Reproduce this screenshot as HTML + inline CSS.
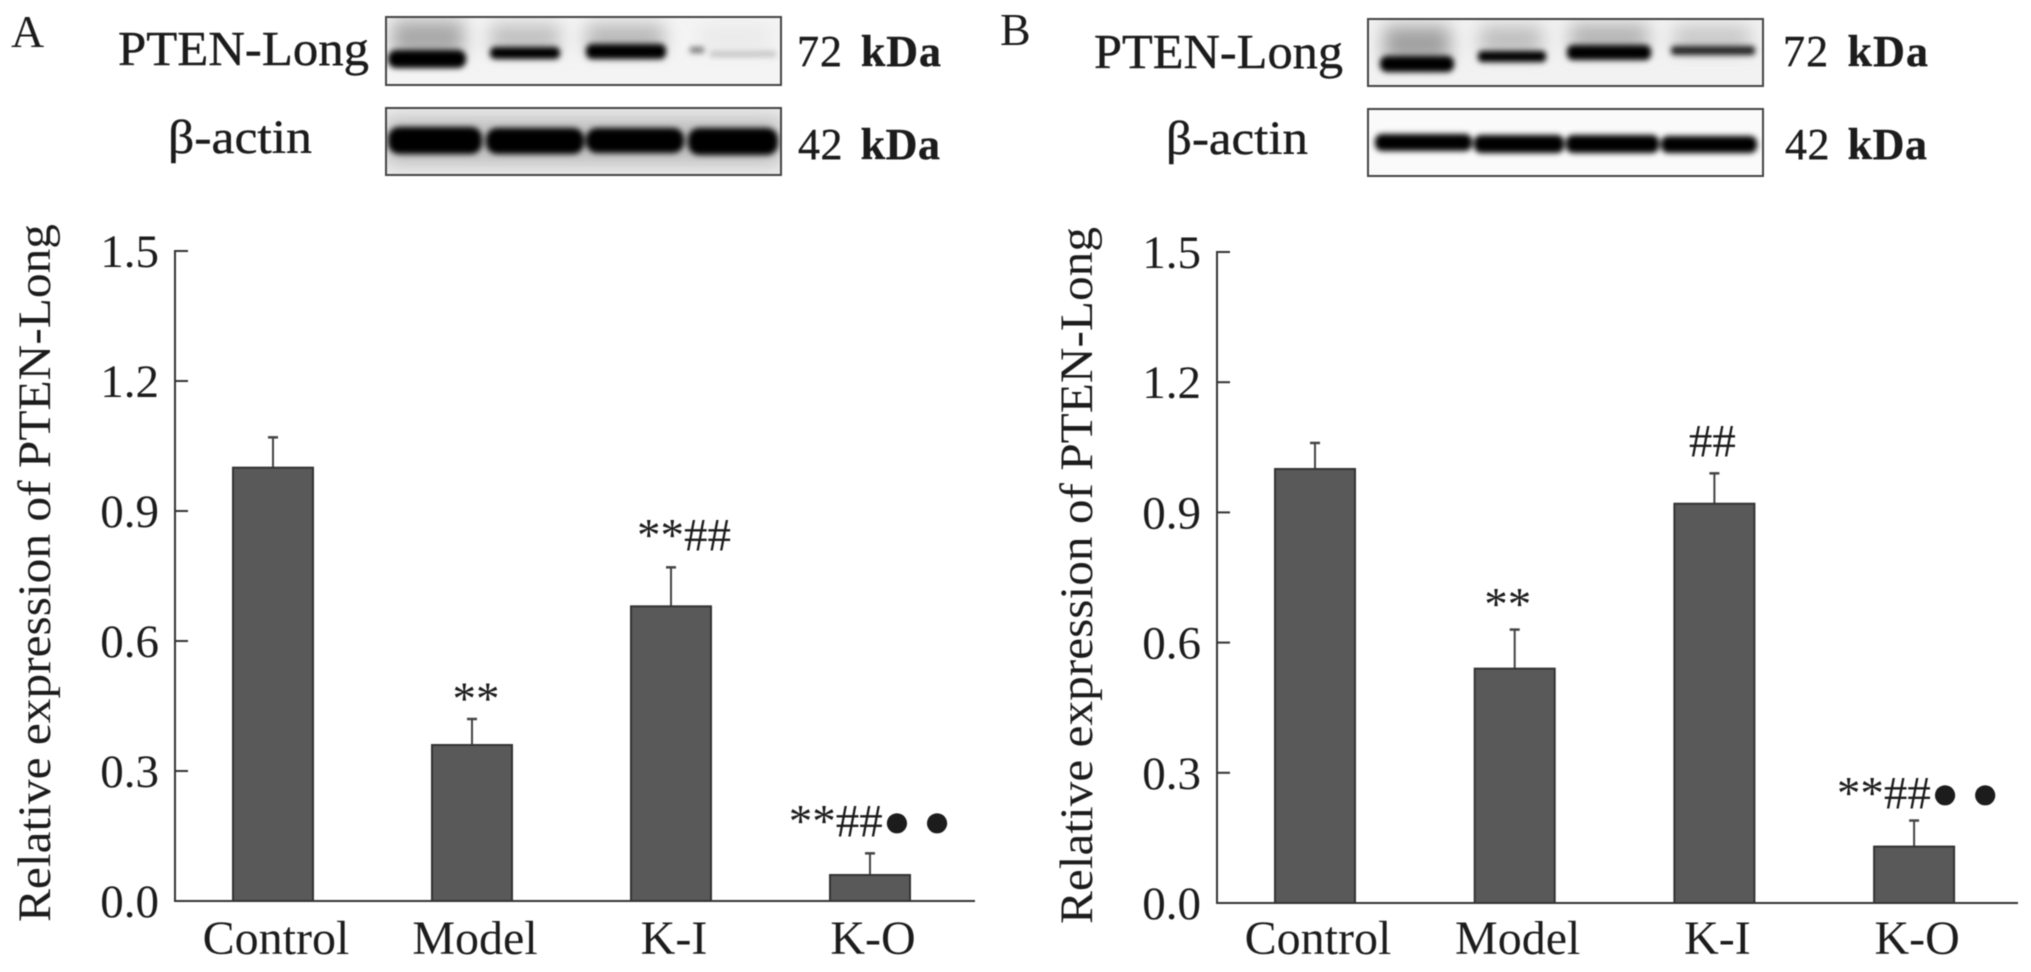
<!DOCTYPE html>
<html lang="en">
<head>
<meta charset="utf-8">
<title>PTEN-Long relative expression</title>
<style>
html,body{margin:0;padding:0;background:#fff;}
svg{display:block;filter:blur(0.6px);}
text{font-family:"Liberation Serif",serif;fill:#1c1c1c;}
.blot-text{stroke:#1c1c1c;stroke-width:.4px;}
</style>
</head>
<body>
<svg id="figure" xmlns="http://www.w3.org/2000/svg" width="2031" height="972" viewBox="0 0 2031 972">
  <defs>
    <filter id="b1" x="-30%" y="-150%" width="160%" height="400%"><feGaussianBlur stdDeviation="3"/></filter>
    <filter id="b2" x="-30%" y="-100%" width="160%" height="300%"><feGaussianBlur stdDeviation="9"/></filter>
    <clipPath id="cA1"><rect x="386" y="17" width="395" height="68"/></clipPath>
    <clipPath id="cA2"><rect x="386" y="108" width="395" height="67"/></clipPath>
    <clipPath id="cB1"><rect x="1368" y="19" width="395" height="67"/></clipPath>
    <clipPath id="cB2"><rect x="1368" y="109" width="395" height="67"/></clipPath>
  </defs>
  <rect x="0" y="0" width="2031" height="972" fill="#fff"/>

  <text x="11" y="47" font-size="46">A</text>
  <text x="1000" y="45" font-size="46">B</text>

  <text class="blot-text" x="118" y="65" font-size="49" textLength="251" lengthAdjust="spacingAndGlyphs">PTEN-Long</text>
  <text class="blot-text" x="168" y="153" font-size="48" textLength="144" lengthAdjust="spacingAndGlyphs">β-actin</text>
  <text class="blot-text" x="797" y="66" font-size="44" textLength="144" xml:space="preserve">72 <tspan font-weight="bold" dx="6">kDa</tspan></text>
  <text class="blot-text" x="798" y="159" font-size="44" textLength="142" xml:space="preserve">42 <tspan font-weight="bold" dx="6">kDa</tspan></text>

  <text class="blot-text" x="1094" y="68" font-size="49" textLength="249" lengthAdjust="spacingAndGlyphs">PTEN-Long</text>
  <text class="blot-text" x="1166" y="154" font-size="48" textLength="142" lengthAdjust="spacingAndGlyphs">β-actin</text>
  <text class="blot-text" x="1783" y="66" font-size="44" textLength="145" xml:space="preserve">72 <tspan font-weight="bold" dx="6">kDa</tspan></text>
  <text class="blot-text" x="1785" y="159" font-size="44" textLength="142" xml:space="preserve">42 <tspan font-weight="bold" dx="6">kDa</tspan></text>

  <g>
    <rect x="386" y="17" width="395" height="68" fill="#f4f4f4"/>
    <g clip-path="url(#cA1)">
      <g filter="url(#b2)" fill="#a8a8a8">
        <rect x="392" y="20" width="72" height="36"/>
        <rect x="490" y="24" width="70" height="28" opacity=".7"/>
        <rect x="586" y="24" width="78" height="28" opacity=".8"/>
        <rect x="700" y="26" width="70" height="22" opacity=".15"/>
      </g>
      <g filter="url(#b1)" fill="#050505">
        <rect x="388" y="50" width="78" height="18" rx="8"/>
        <rect x="490" y="47" width="70" height="12" rx="5"/>
        <rect x="586" y="44" width="80" height="15" rx="6"/>
        <rect x="690" y="47" width="14" height="6" fill="#777"/>
        <rect x="710" y="51" width="66" height="6" fill="#c4c4c4"/>
      </g>
    </g>
    <rect x="386" y="17" width="395" height="68" fill="none" stroke="#444" stroke-width="2"/>
  </g>
  <g>
    <rect x="386" y="108" width="395" height="67" fill="#ececec"/>
    <g clip-path="url(#cA2)">
      <g filter="url(#b2)" fill="#a8a8a8" opacity=".7">
        <rect x="386" y="118" width="395" height="46"/>
      </g>
      <g filter="url(#b1)" fill="#030303">
        <rect x="388" y="127" width="94" height="27" rx="11"/>
        <rect x="486" y="128" width="98" height="26" rx="11"/>
        <rect x="586" y="128" width="98" height="25" rx="11"/>
        <rect x="688" y="128" width="90" height="27" rx="11"/>
      </g>
    </g>
    <rect x="386" y="108" width="395" height="67" fill="none" stroke="#444" stroke-width="2"/>
  </g>
  <g>
    <rect x="1368" y="19" width="395" height="67" fill="#f2f2f2"/>
    <g clip-path="url(#cB1)">
      <g filter="url(#b2)" fill="#a0a0a0">
        <rect x="1384" y="26" width="66" height="36"/>
        <rect x="1480" y="26" width="62" height="28" opacity=".65"/>
        <rect x="1570" y="24" width="78" height="26" opacity=".8"/>
        <rect x="1674" y="26" width="76" height="24" opacity=".55"/>
      </g>
      <g filter="url(#b1)" fill="#050505">
        <rect x="1380" y="56" width="74" height="16" rx="7"/>
        <rect x="1478" y="51" width="68" height="11" rx="4"/>
        <rect x="1567" y="45" width="84" height="15" rx="6"/>
        <rect x="1671" y="46" width="84" height="9" rx="3" fill="#222"/>
      </g>
    </g>
    <rect x="1368" y="19" width="395" height="67" fill="none" stroke="#444" stroke-width="2"/>
  </g>
  <g>
    <rect x="1368" y="109" width="395" height="67" fill="#fafafa"/>
    <g clip-path="url(#cB2)">
      <g filter="url(#b1)" fill="#030303">
        <rect x="1375" y="134" width="97" height="17" rx="7"/>
        <rect x="1474" y="135" width="90" height="18" rx="7"/>
        <rect x="1566" y="135" width="93" height="18" rx="7"/>
        <rect x="1661" y="136" width="96" height="17" rx="7"/>
      </g>
    </g>
    <rect x="1368" y="109" width="395" height="67" fill="none" stroke="#444" stroke-width="2"/>
  </g>
  <g id="chart-a"></g>
  <g id="chart-b"></g>
</svg>
<script>
const categories = ['Control', 'Model', 'K-I', 'K-O'];
const yTickValues = [0, 0.3, 0.6, 0.9, 1.2, 1.5];
const yTickLabels = ['0.0', '0.3', '0.6', '0.9', '1.2', '1.5'];
const valuesA = [1.0, 0.36, 0.68, 0.06];
const errorsA = [0.07, 0.06, 0.09, 0.05];
const annotationsA = ['', '**', '**##', '**##\u25CF \u25CF'];
const valuesB = [1.0, 0.54, 0.92, 0.13];
const errorsB = [0.06, 0.09, 0.07, 0.06];
const annotationsB = ['', '**', '##', '**##\u25CF \u25CF'];
const yAxisTitle = 'Relative expression of PTEN-Long';
const NS = 'http://www.w3.org/2000/svg';

function make(parent, tag, attrs, text) {
  const el = document.createElementNS(NS, tag);
  for (const k in attrs) el.setAttribute(k, attrs[k]);
  if (text !== undefined) el.textContent = text;
  parent.appendChild(el);
  return el;
}

function drawChart(opts, values, errors, annotations) {
  const root = document.getElementById(opts.rootId);
  const yZero = opts.yZero;
  const yMax = yTickValues[yTickValues.length - 1];
  const yScale = v => yZero - (v / yMax) * (yZero - opts.yTop);
  const xScale = i => opts.firstX + i * opts.step;
  const barWidth = 80;

  values.forEach((v, i) => {
    const cx = xScale(i);
    const errTop = yScale(v + errors[i]);
    const errLine = make(root, 'line', {x1: cx, x2: cx, y1: yScale(v), y2: errTop, stroke: '#444', 'stroke-width': 2});
    
    
    const errCap = make(root, 'line', {x1: cx - 5, x2: cx + 5, y1: errTop, y2: errTop, stroke: '#444', 'stroke-width': 2.5});
    
    
    const bar = make(root, 'rect', {x: cx - barWidth / 2, y: yScale(v), width: barWidth, height: yZero - yScale(v), fill: '#595959', stroke: '#333', 'stroke-width': 2});
    
    
    if (annotations[i]) {
      const nudge = opts.noteNudge[i];
      const note = make(root, 'text', {x: cx + nudge[0], y: errTop - nudge[1], 'font-size': 47, 'text-anchor': 'middle'}, annotations[i]);
      
      
    }
    const cat = make(root, 'text', {x: cx + 3, y: 954, 'font-size': 48, 'text-anchor': 'middle'}, categories[i]);
    
    
  });

  const yAxis = make(root, 'line', {x1: opts.axisX, x2: opts.axisX, y1: opts.yTop - 1, y2: yZero + 1, stroke: '#333', 'stroke-width': 2});
  
  
  const xAxis = make(root, 'line', {x1: opts.axisX - 1, x2: opts.axisEnd, y1: yZero, y2: yZero, stroke: '#333', 'stroke-width': 2});
  
  

  yTickValues.forEach((t, i) => {
    const tick = make(root, 'line', {x1: opts.axisX, x2: opts.axisX + 13, y1: yScale(t), y2: yScale(t), stroke: '#333', 'stroke-width': 2});
    
    
    const lab = make(root, 'text', {x: opts.axisX - 16, y: yScale(t) + 16, 'font-size': 47, 'text-anchor': 'end'}, yTickLabels[i]);
    
    
  });

  const title = make(root, 'text', {
    transform: 'translate(' + opts.titleX + ',' + (opts.titleTop + opts.titleLen) + ') rotate(-90)',
    x: 0, y: 0, 'font-size': 47, textLength: opts.titleLen, lengthAdjust: 'spacingAndGlyphs'
  }, yAxisTitle);
  
  
}

drawChart({rootId: 'chart-a', axisX: 175, axisEnd: 975, yZero: 901, yTop: 251, firstX: 273, step: 199, titleX: 50, titleTop: 224, titleLen: 698,
  noteNudge: [[0, 0], [4, 5], [13, 17], [0, 17]]}, valuesA, errorsA, annotationsA);
drawChart({rootId: 'chart-b', axisX: 1217, axisEnd: 2018, yZero: 903, yTop: 252, firstX: 1315, step: 199.7, titleX: 1092, titleTop: 227, titleLen: 697,
  noteNudge: [[0, 0], [-7, 10], [-2, 17], [4, 12]]}, valuesB, errorsB, annotationsB);
</script>
</body>
</html>
